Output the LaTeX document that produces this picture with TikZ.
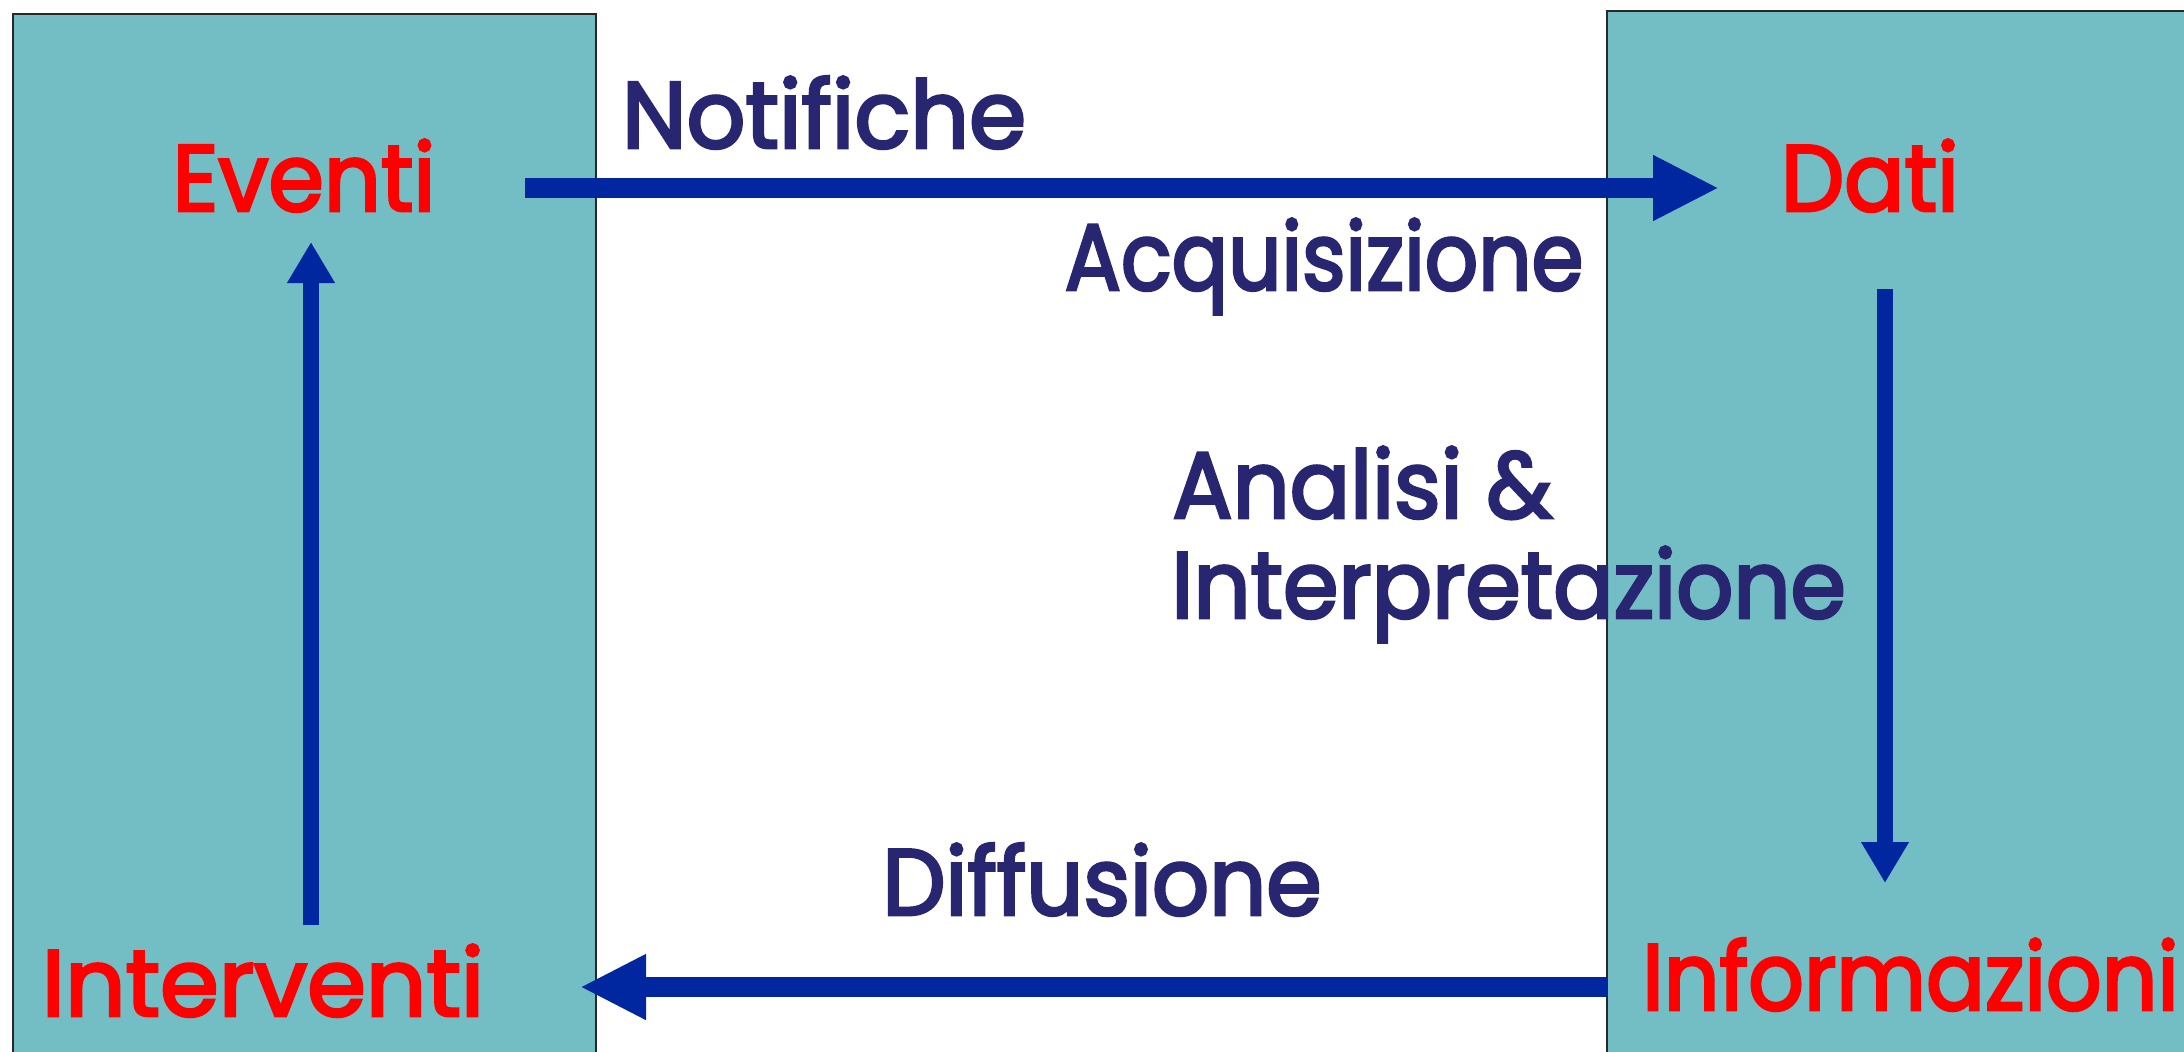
\documentclass[tikz,border=0pt]{standalone}
\usepackage{fontspec}
\setmainfont{Poppins}[FakeBold=3, FakeStretch=0.95]
\usetikzlibrary{arrows.meta}
\definecolor{tealfill}{RGB}{114,190,196}
\definecolor{arrowblue}{RGB}{0,38,160}
\definecolor{labelnavy}{RGB}{40,38,112}
\definecolor{boxline}{RGB}{40,40,40}
\tikzset{
  panel/.style={draw=boxline, line width=1.3pt, fill=tealfill},
  stage/.style={text=red, font=\fontsize{47}{56}\selectfont, inner sep=0pt},
  flowlabel/.style={text=labelnavy, font=\fontsize{47}{56}\selectfont, inner sep=0pt},
  hflow/.style={draw=arrowblue, line width=10pt, -{Triangle[length=33pt,width=30.5pt]}},
  vflow/.style={draw=arrowblue, line width=8pt, -{Triangle[length=20.5pt,width=22.5pt]}}
}
\begin{document}
\begin{tikzpicture}[x=0.5pt,y=-0.5pt]
\clip (0,0) rectangle (2184,1051);
\fill[white] (0,0) rectangle (2184,1051);
% panels
\draw[panel] (13,14) rectangle (596,1070);
\draw[panel] (1607,11) rectangle (2210,1070);
% stage nodes
\node[stage, anchor=base] (eventi) at (304,211) {Eventi};
\node[stage, anchor=base] (dati) at (1870,211) {Dati};
\node[stage, anchor=base west] (info) at (1642,1010) {\scalebox{0.975}[1]{Informazioni}};
\node[stage, anchor=base] (interv) at (263,1016) {\scalebox{1.06}[1]{Interventi}};
% flow labels
\node[flowlabel, anchor=base] (notif) at (824,148) {\scalebox{1.03}[1]{Notifiche}};
\node[flowlabel, anchor=base] (acq) at (1324,290) {\scalebox{0.935}[1]{Acquisizione}};
\node[flowlabel, anchor=base west] (anal) at (1172,518) {Analisi \&};
\node[flowlabel, anchor=base west] (interp) at (1171,618) {Interpretazione};
\node[flowlabel, anchor=base] (diff) at (1102,915) {Diffusione};
% connector end points
\coordinate (topS) at (525,188);
\coordinate (topE) at (1719,188);
\coordinate (rightS) at (1885,289);
\coordinate (rightE) at (1885,883);
\coordinate (botS) at (1607,987);
\coordinate (botE) at (580,987);
\coordinate (leftS) at (311,925);
\coordinate (leftE) at (311,242);
% connectors
\draw[hflow] (topS) -- (topE);
\draw[vflow] (rightS) -- (rightE);
\draw[hflow] (botS) -- (botE);
\draw[vflow] (leftS) -- (leftE);
\end{tikzpicture}
\end{document}
